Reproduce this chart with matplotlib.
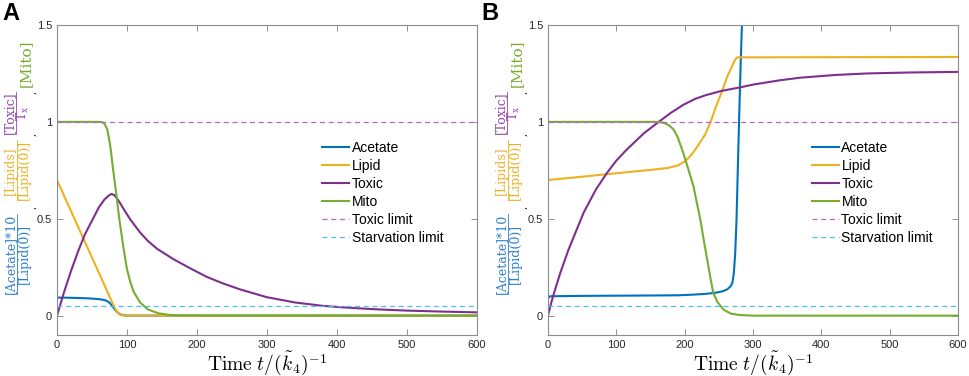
"""
Acetate / lipid / toxic / mito time courses, panels A and B.
"""

import matplotlib
matplotlib.use('Agg')
import matplotlib.pyplot as plt
from matplotlib import transforms
from matplotlib.lines import Line2D

plt.rcParams['font.family'] = ['Liberation Sans', 'DejaVu Sans']
plt.rcParams['mathtext.fontset'] = 'cm'

# ---- panel A ----
t_acet_A = [0, 10, 20, 30, 40, 50, 60, 66, 70, 74, 78, 82, 86, 90, 95, 100, 600]
acet_A = [0.093, 0.093, 0.092, 0.091, 0.090, 0.088, 0.085, 0.082, 0.078, 0.070,
          0.055, 0.035, 0.018, 0.007, 0.002, 0.0, 0.0]

t_lip_A = [0, 20, 40, 60, 70, 78, 84, 88, 92, 100, 600]
lip_A = [0.70, 0.54, 0.38, 0.22, 0.14, 0.075, 0.03, 0.01, 0.002, 0.0, 0.0]

t_tox_A = [0, 5, 10, 20, 30, 40, 50, 60, 68, 74, 78, 82, 86, 90, 97, 105, 119,
           130, 143, 167, 190, 214, 238, 262, 300, 340, 381, 420, 460, 500, 550, 600]
tox_A = [0.0, 0.06, 0.12, 0.23, 0.33, 0.42, 0.49, 0.56, 0.6, 0.62, 0.628, 0.622,
         0.604, 0.582, 0.54, 0.495, 0.428, 0.385, 0.345, 0.29, 0.245, 0.2, 0.165,
         0.135, 0.095, 0.068, 0.05, 0.04, 0.032, 0.026, 0.021, 0.017]

t_mito_A = [0, 60, 65, 68, 72, 76, 80, 85, 89, 95, 100, 105, 110, 119, 130, 145,
            160, 180, 600]
mito_A = [1.0, 1.0, 0.998, 0.99, 0.96, 0.88, 0.76, 0.62, 0.5, 0.35, 0.24, 0.17,
          0.12, 0.067, 0.032, 0.012, 0.004, 0.001, 0.0]

# ---- panel B ----
t_acet_B = [0, 3, 50, 100, 150, 190, 210, 230, 245, 255, 262, 267, 270, 272, 274,
            276, 278, 280, 282, 285]
acet_B = [0.09, 0.10, 0.102, 0.103, 0.104, 0.105, 0.108, 0.112, 0.118, 0.125,
          0.135, 0.15, 0.17, 0.22, 0.32, 0.5, 0.78, 1.05, 1.3, 1.62]

t_lip_B = [0, 50, 100, 150, 175, 190, 200, 210, 220, 230, 238, 246, 255, 262,
           269, 274, 277, 600]
lip_B = [0.70, 0.717, 0.735, 0.752, 0.762, 0.775, 0.795, 0.83, 0.88, 0.935, 1.0,
         1.08, 1.16, 1.23, 1.285, 1.322, 1.333, 1.335]

t_tox_B = [0, 5, 10, 18, 30, 52, 70, 86, 100, 115, 140, 162, 180, 198, 215, 230,
           254, 281, 301, 340, 369, 420, 467, 530, 600]
tox_B = [0.0, 0.07, 0.13, 0.22, 0.34, 0.53, 0.65, 0.735, 0.80, 0.856, 0.94, 1.0,
         1.047, 1.088, 1.118, 1.137, 1.16, 1.178, 1.193, 1.215, 1.228, 1.242, 1.25,
         1.255, 1.258]

t_mito_B = [0, 160, 170, 178, 184, 190, 198, 205, 213, 218, 223, 228, 233, 238,
            242, 248, 257, 268, 281, 300, 600]
mito_B = [1.0, 1.0, 0.995, 0.98, 0.96, 0.92, 0.84, 0.76, 0.667, 0.58, 0.495, 0.39,
          0.29, 0.19, 0.117, 0.07, 0.031, 0.01, 0.003, 0.0, 0.0]

TOXIC_LIMIT = 1.0
STARVATION_LIMIT = 0.05

labels = ['Acetate', 'Lipid', 'Toxic', 'Mito', 'Toxic limit', 'Starvation limit']
xticks = [0, 100, 200, 300, 400, 500, 600]
yticks = [0, 0.5, 1, 1.5]
ytick_labels = ['0', '0.5', '1', '1.5']

BLUE = '#0072BD'
ORANGE = '#EDB120'
PURPLE = '#7E2F8E'
GREEN = '#77AC30'
TOX_DASH = '#B266CC'
STARV_DASH = '#4DBEEE'

bars = []  # fraction bars, drawn once text sizes are known


def offset(ax, dx):
    base = transforms.blended_transform_factory(ax.transAxes, ax.transData)
    return base + transforms.ScaledTranslation(dx / ax.figure.dpi, 0,
                                               ax.figure.dpi_scale_trans)


def ylabel_frac(ax, y, num, den, dx_num, dx_den, color, fs=9):
    kw = dict(rotation=90, ha='center', va='center', color=color, fontsize=fs,
              family='DejaVu Serif', math_fontfamily='dejavuserif', clip_on=False)
    t1 = ax.text(0, y, num, transform=offset(ax, dx_num), **kw)
    t2 = ax.text(0, y, den, transform=offset(ax, dx_den), **kw)
    bars.append((ax, (dx_num + dx_den) / 2, t1, t2, color))


def panel(ax, curves, legend_x):
    colors = [BLUE, ORANGE, PURPLE, GREEN]
    for (t, v), c, lab in zip(curves, colors, labels):
        ax.plot(t, v, color=c, lw=1.5, label=lab)
    ax.axhline(TOXIC_LIMIT, color=TOX_DASH, lw=0.9, ls=(0, (4, 3)), label=labels[4])
    ax.axhline(STARVATION_LIMIT, color=STARV_DASH, lw=0.9, ls=(0, (4, 3)),
               label=labels[5])
    ax.set_xlim(0, 600)
    ax.set_ylim(-0.1, 1.5)
    ax.set_xticks(xticks)
    ax.set_yticks(yticks)
    ax.set_yticklabels(ytick_labels)
    ax.tick_params(direction='in', length=4, width=0.6, color='#808080',
                   labelsize=8, labelcolor='#262626', top=True, right=True)
    for s in ax.spines.values():
        s.set_color('#8c8c8c')
        s.set_linewidth(0.8)
    ax.set_xlabel(r'$\mathrm{Time}\ t/(\tilde{k}_4)^{-1}$', fontsize=14, labelpad=0)
    ax.legend(loc='upper left', bbox_to_anchor=(legend_x, 0.625), frameon=False,
              fontsize=10, handlelength=1.95, handletextpad=0.2, labelspacing=0.28,
              borderpad=0, borderaxespad=0)

    # stacked coloured y label
    ylabel_frac(ax, 0.32, '[Acetate]*10', '[Lipid(0)]', -46.5, -33, '#2C7FCF')
    ylabel_frac(ax, 0.75, '[Lipids]', '[Lipid(0)]', -46.5, -33, ORANGE)
    ylabel_frac(ax, 1.045, '[Toxic]', r'$\mathrm{T}_\mathrm{x}$', -47.5, -34.5,
                '#9444AE')
    ax.text(0, 1.305, '[Mito]', transform=offset(ax, -31), rotation=90, ha='center',
            va='center', color=GREEN, fontsize=11, family='DejaVu Serif')
    for y in (0.56, 0.935, 1.15):
        ax.text(0, y, ',', transform=offset(ax, -24), rotation=90, ha='center',
                va='center', color='black', fontsize=7, family='DejaVu Serif')


fig = plt.figure(figsize=(9.69, 3.76), dpi=100)
axA = fig.add_axes([0.0588, 0.109, 0.4334, 0.8245])
axB = fig.add_axes([0.5655, 0.109, 0.4231, 0.8245])

panel(axA, [(t_acet_A, acet_A), (t_lip_A, lip_A), (t_tox_A, tox_A),
            (t_mito_A, mito_A)], 0.631)
panel(axB, [(t_acet_B, acet_B), (t_lip_B, lip_B), (t_tox_B, tox_B),
            (t_mito_B, mito_B)], 0.643)

fig.text(0.002, 0.995, 'A', fontsize=17, fontweight='bold', va='top', ha='left')
fig.text(0.497, 0.995, 'B', fontsize=17, fontweight='bold', va='top', ha='left')

# fraction bars, as long as the longer of numerator / denominator
fig.canvas.draw()
for ax, dx, t1, t2, col in bars:
    e1 = t1.get_window_extent()
    e2 = t2.get_window_extent()
    x = ax.get_window_extent().x0 + dx
    y0 = min(e1.y0, e2.y0)
    y1 = max(e1.y1, e2.y1)
    fig.add_artist(Line2D([x, x], [y0, y1], color=col, lw=0.6,
                          transform=transforms.IdentityTransform()))

fig.savefig('out.png', dpi=100)
